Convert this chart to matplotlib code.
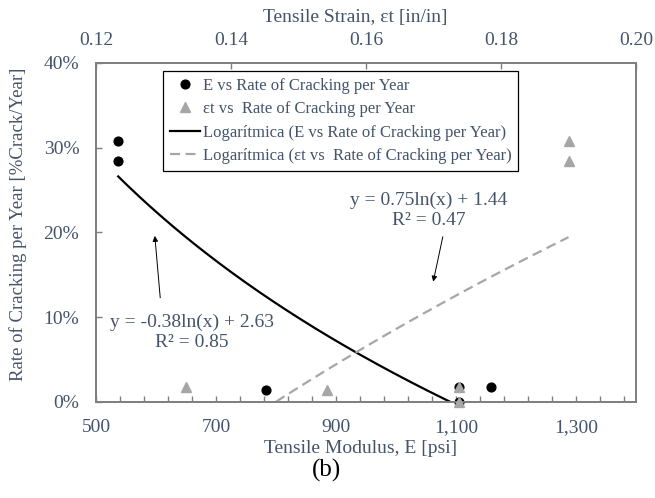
import numpy as np
import matplotlib.pyplot as plt
from matplotlib.ticker import FuncFormatter

plt.rcParams['font.family'] = ['Liberation Serif', 'DejaVu Serif']

# tensile modulus E [psi] vs rate of cracking
modulus = [537, 537, 784, 1105, 1105, 1159]
rate_e = [0.308, 0.284, 0.014, 0.018, 0.0, 0.018]

# tensile strain vs rate of cracking
strain = [0.1333, 0.1542, 0.1738, 0.1738, 0.19, 0.19]
rate_s = [0.018, 0.014, 0.018, 0.0, 0.308, 0.284]

# logarithmic trend coefficients: y = a*ln(x) + b
trend_e = [-0.3755, 2.6265]
r2_e = 0.85
trend_s = [0.75, 1.44]
r2_s = 0.47

txt = '#44546a'
axis_col = '#7f7f7f'
grey = '#a6a6a6'

fig = plt.figure(figsize=(6.55, 4.98), dpi=100)
ax = fig.add_axes([0.1466, 0.1928, 0.8244, 0.6807])
ax2 = ax.twiny()

ax.set_xlim(500, 1400)
ax.set_ylim(0, 0.40)
ax2.set_xlim(0.12, 0.20)

ax.set_xticks([500, 700, 900, 1100, 1300])
ax.set_xticks(np.arange(500, 1400, 40), minor=True)
ax.set_yticks([0, 0.1, 0.2, 0.3, 0.4])
ax2.set_xticks([0.12, 0.14, 0.16, 0.18, 0.20])
ax.xaxis.set_major_formatter(FuncFormatter(lambda v, p: f'{v:,.0f}'))
ax.yaxis.set_major_formatter(FuncFormatter(lambda v, p: f'{v * 100:.0f}%'))
ax2.xaxis.set_major_formatter(FuncFormatter(lambda v, p: f'{v:.2f}'))

ax.tick_params(axis='x', which='both', direction='in', length=4, width=1,
               color=axis_col, labelsize=14, labelcolor=txt, pad=12)
ax.tick_params(axis='y', direction='in', length=4.5, width=1,
               color=axis_col, labelsize=14, labelcolor=txt, pad=12)
ax2.tick_params(axis='x', direction='in', length=4.5, width=1,
                color=axis_col, labelsize=14, labelcolor=txt, pad=10)
for a in (ax, ax2):
    for s in a.spines.values():
        s.set_color(axis_col)
        s.set_linewidth(1.3)

# trend lines
xe = np.linspace(min(modulus), max(modulus), 200)
ax.plot(xe, trend_e[0] * np.log(xe) + trend_e[1], color='black', lw=1.6,
        label='Logarítmica (E vs Rate of Cracking per Year)', zorder=2)
xs = np.linspace(min(strain), max(strain), 200)
ax2.plot(xs, trend_s[0] * np.log(xs) + trend_s[1], color=grey, lw=1.6,
         ls=(0, (4.5, 2.5)), label='Logarítmica (εt vs  Rate of Cracking per Year)',
         zorder=2)

ax.plot(modulus, rate_e, 'o', color='black', ms=6.3, clip_on=False, zorder=3,
        label='E vs Rate of Cracking per Year')
ax2.plot(strain, rate_s, '^', color=grey, ms=7, clip_on=False, zorder=3,
         label='εt vs  Rate of Cracking per Year')

h1, l1 = ax.get_legend_handles_labels()
h2, l2 = ax2.get_legend_handles_labels()
handles = [h1[1], h2[1], h1[0], h2[0]]
labels = [l1[1], l2[1], l1[0], l2[0]]
leg = ax2.legend(handles, labels, loc='upper left', bbox_to_anchor=(0.124, 0.976),
                 borderaxespad=0, fontsize=12, frameon=True, fancybox=False,
                 edgecolor='black', framealpha=1, handlelength=1.8,
                 handletextpad=0.2, labelspacing=0.45, borderpad=0.4)
leg.get_frame().set_linewidth(0.9)
for t in leg.get_texts():
    t.set_color(txt)

# equations
ax.text(1055, 0.2265, f'y = {trend_s[0]:.2f}ln(x) + {trend_s[1]:.2f}\nR² = {r2_s:.2f}',
        ha='center', va='center', fontsize=14, color=txt, linespacing=1.25)
ax.annotate('', xy=(1062, 0.142), xytext=(1078, 0.195),
            arrowprops=dict(arrowstyle='-|>', color='black', lw=0.7,
                            mutation_scale=8, shrinkA=0, shrinkB=0))
ax.text(660, 0.082, f'y = {trend_e[0]:.2f}ln(x) + {trend_e[1]:.2f}\nR² = {r2_e:.2f}',
        ha='center', va='center', fontsize=14, color=txt, linespacing=1.25)
ax.annotate('', xy=(598, 0.196), xytext=(607, 0.123),
            arrowprops=dict(arrowstyle='-|>', color='black', lw=0.7,
                            mutation_scale=8, shrinkA=0, shrinkB=0))

ax.set_xlabel('Tensile Modulus, E [psi]', fontsize=14, color=txt, va='center')
ax.xaxis.set_label_coords(0.489, -0.136)
ax2.set_xlabel('Tensile Strain, εt [in/in]', fontsize=14, color=txt, va='center')
ax2.xaxis.set_label_coords(0.48, 1.135)
ax.set_ylabel('Rate of Cracking per Year [%Crack/Year]', fontsize=13.5, color=txt,
              va='center')
ax.yaxis.set_label_coords(-0.144, 0.525)

fig.text(0.499, 0.056, '(b)', ha='center', va='center', fontsize=18, color='black')

fig.savefig('out.png', dpi=100)
